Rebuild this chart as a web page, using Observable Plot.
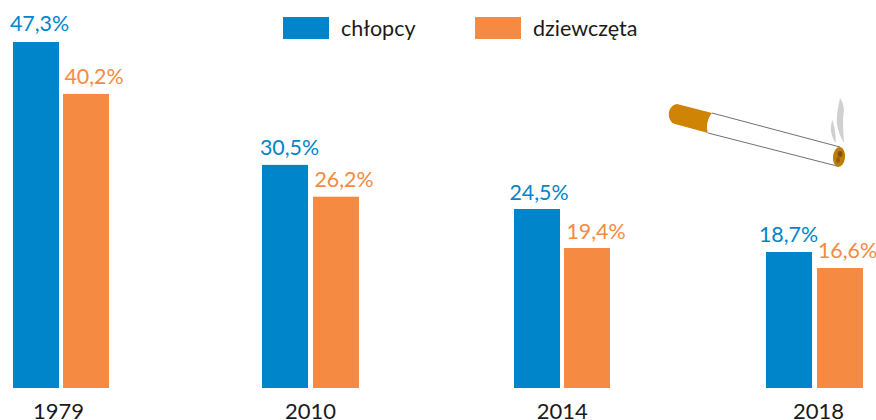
<!DOCTYPE html>
<html lang="pl">
<head>
<meta charset="utf-8">
<script src="https://cdn.jsdelivr.net/npm/d3@7"></script>
<script src="https://cdn.jsdelivr.net/npm/@observablehq/plot@0.6"></script>
<style>
html,body{margin:0;padding:0;background:#fff}
#wrap{position:relative;width:876px;height:420px;overflow:hidden;font-family:Lato,sans-serif}
#legend{position:absolute;left:0;top:0;width:876px;height:40px;font-size:21.5px;color:#1a1a1a}
#legend .sw{position:absolute;top:17px;width:46px;height:22px}
#legend .lb{position:absolute;top:14px;line-height:28px;white-space:nowrap}
svg{display:block}
</style>
</head>
<body>
<div id="wrap"><div id="chart"></div><div id="legend"></div></div>
<script>
const years = ["1979", "2010", "2014", "2018"];
const groups = ["chłopcy", "dziewczęta"];
const boys = [47.3, 30.5, 24.5, 18.7];
const girls = [40.2, 26.2, 19.4, 16.6];
const colors = ["#0085CA", "#F58A42"];

const rows = years.flatMap((year, i) => [
  {year, group: groups[0], value: boys[i]},
  {year, group: groups[1], value: girls[i]}
]);
const fmt = v => v.toFixed(1).replace(".", ",") + "%";

function cigarette() {
  const ns = "http://www.w3.org/2000/svg";
  const g = document.createElementNS(ns, "g");
  g.innerHTML = `
    <defs><filter id="smoke" x="-50%" y="-20%" width="200%" height="140%"><feGaussianBlur stdDeviation="0.6"/></filter></defs>
    <g filter="url(#smoke)" fill="#d0d0d0">
      <path d="M840 98C844 104 844.500 110 843.500 114C842.500 120 843.500 132 844 143C841 139 837.500 129 836.800 122C836.500 114 838.500 106 840 98Z"/>
      <path d="M832.700 120C829.800 126 830 134 835.500 143C836 138 835.500 134 835 131C834.500 127 833.500 125 832.700 120Z"/>
    </g>
    <path d="M712 113L840 147L837 166L708 133Z" fill="#fff"/>
    <path d="M712 113L840 147M708 133L837 166" fill="none" stroke="#707070" stroke-width="1"/>
    <path d="M677 104L712 113C707 119 706 127 708 133L675 124C667 122 666 106 677 104Z" fill="#CF8406"/>
    <ellipse cx="839" cy="157" rx="6" ry="10" fill="#C07C08" transform="rotate(6 839 157)"/>
    <ellipse cx="840" cy="154" rx="2.500" ry="3" fill="#7d5410"/>
    <ellipse cx="838" cy="160" rx="2" ry="3" fill="#8f6210"/>`;
  return g;
}

// pixel nudges per drawn item: bar shift, bar top, label shift, label rise
const nudges = {
  "1979chłopcy":    {bx: 0,     top: 0,    tx: 3,     ty: -11},
  "1979dziewczęta": {bx: 0,     top: 0,    tx: 7.5,   ty: -10},
  "2010chłopcy":    {bx: -2.33, top: 0,    tx: 1.67,  ty: -10},
  "2010dziewczęta": {bx: -1.33, top: 0.35, tx: 6.17,  ty: -9.35},
  "2014chłopcy":    {bx: -1.67, top: 0.2,  tx: -0.17, ty: -8.8},
  "2014dziewczęta": {bx: -1.67, top: 1.9,  tx: 6.83,  ty: -7.1},
  "2018chłopcy":    {bx: -1,    top: 0.8,  tx: -2,    ty: -9.2},
  "2018dziewczęta": {bx: 0,     top: 1.4,  tx: 7,     ty: -8.6}
};
const axisShift = {"1979": -3, "2010": -2.33, "2014": -2, "2018": 3};

const chart = Plot.plot({
  width: 876,
  height: 420,
  marginTop: 0,
  marginBottom: 32,
  marginLeft: 13,
  marginRight: 13,
  style: {background: "#fff", fontFamily: "Lato, sans-serif", overflow: "visible"},
  fx: {domain: years, round: false, paddingInner: 1 - 96 / 251.333, paddingOuter: 0, label: null, axis: null},
  x: {domain: groups, round: false, paddingInner: 0.08, paddingOuter: 0, axis: null, label: null},
  y: {domain: [0, 53.04], axis: null, label: null},
  color: {domain: groups, range: colors},
  marks: [
    ...rows.map(r => {
      const n = nudges[r.year + r.group];
      return Plot.barY([r], {fx: "year", x: "group", y: "value", fill: "group", dx: n.bx, insetTop: n.top});
    }),
    ...rows.map(r => {
      const n = nudges[r.year + r.group];
      return Plot.text([r], {
        fx: "year", x: "group", y: "value",
        text: d => fmt(d.value),
        fill: "group",
        dy: n.ty - 0.5,
        dx: n.tx,
        fontSize: 21.4,
        lineAnchor: "bottom"
      });
    }),
    ...years.map(y => Plot.text([y], {
      fx: d => d,
      text: d => d,
      frameAnchor: "bottom",
      lineAnchor: "bottom",
      dy: 30.5,
      fontSize: 22,
      fill: "#1a1a1a",
      dx: axisShift[y]
    })),
    cigarette
  ]
});
document.getElementById("chart").append(chart);

const legend = document.getElementById("legend");
const legendSpots = [[283, 341], [475, 533]];
groups.forEach((name, i) => {
  const sw = document.createElement("div");
  sw.className = "sw";
  sw.style.left = legendSpots[i][0] + "px";
  sw.style.background = colors[i];
  const lb = document.createElement("div");
  lb.className = "lb";
  lb.style.left = legendSpots[i][1] + "px";
  lb.textContent = name;
  legend.append(sw, lb);
});
</script>
</body>
</html>
